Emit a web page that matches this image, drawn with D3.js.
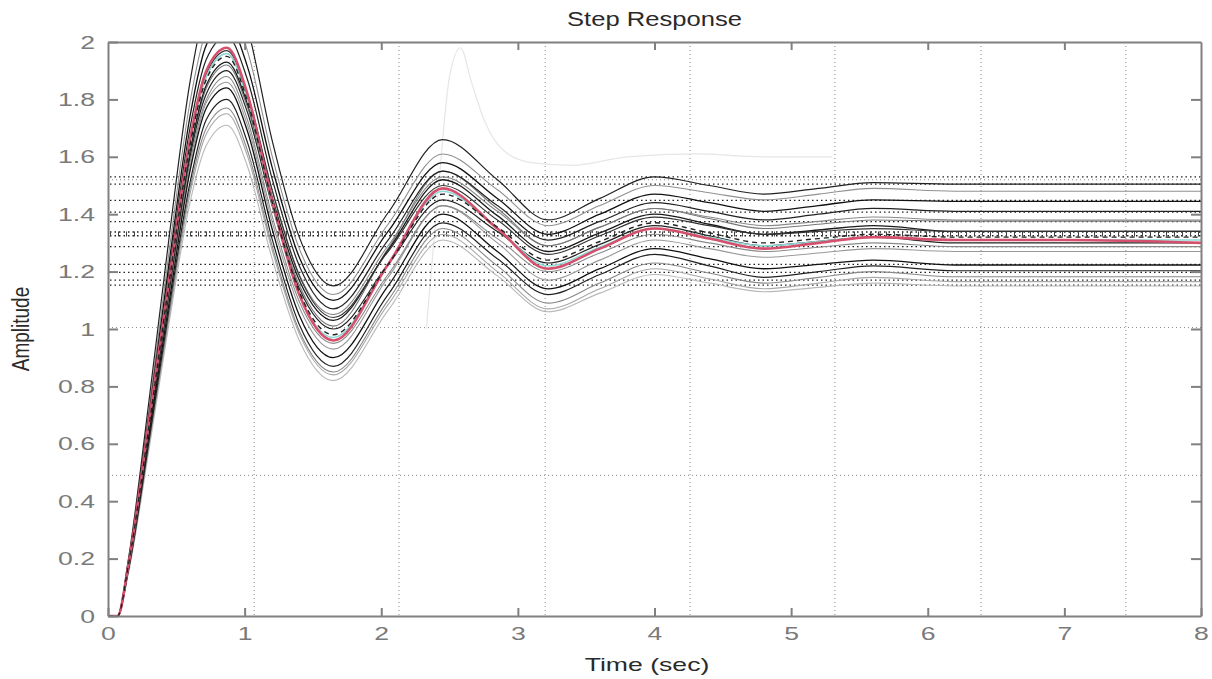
<!DOCTYPE html>
<html><head><meta charset="utf-8">
<script src="https://cdn.jsdelivr.net/npm/d3@7"></script>
<style>
html,body{margin:0;padding:0;background:#fff;}
svg{display:block;font-family:"Liberation Sans",Arial,Helvetica,sans-serif;}
</style></head>
<body>
<svg id="chart" width="1212" height="679"></svg>
<script>
// ---- data ----
const times = [0,0.07,0.15,0.3,0.45,0.6,0.72,0.87,1.02,1.2,1.4,1.65,2.05,2.45,2.85,3.22,3.6,4.0,4.4,4.8,5.2,5.6,6.2,7.0,8.0];
const s01 = [0,0,0.20,0.75,1.33,1.86,2.13,2.22,2.05,1.66,1.32,1.15,1.405,1.66,1.52,1.38,1.455,1.53,1.50,1.47,1.49,1.51,1.505,1.505,1.505];
const s02 = [0,0,0.19,0.72,1.28,1.79,2.04,2.13,1.97,1.605,1.28,1.12,1.365,1.61,1.485,1.36,1.43,1.50,1.475,1.45,1.47,1.49,1.48,1.48,1.48];
const s03 = [0,0,0.19,0.70,1.24,1.74,1.99,2.07,1.915,1.566,1.25,1.10,1.34,1.58,1.455,1.33,1.40,1.47,1.44,1.41,1.43,1.45,1.445,1.445,1.445];
const s04 = [0,0,0.18,0.69,1.21,1.70,1.94,2.02,1.87,1.526,1.22,1.07,1.31,1.55,1.43,1.31,1.375,1.44,1.41,1.38,1.40,1.42,1.41,1.41,1.41];
const s05 = [0,0,0.18,0.67,1.18,1.65,1.88,1.96,1.81,1.487,1.19,1.05,1.29,1.53,1.41,1.29,1.355,1.42,1.39,1.36,1.375,1.39,1.38,1.38,1.38];
const s06 = [0,0,0.17,0.66,1.16,1.62,1.85,1.93,1.786,1.462,1.17,1.03,1.275,1.52,1.395,1.27,1.335,1.40,1.365,1.33,1.345,1.36,1.34,1.34,1.34];
const s07 = [0,0,0.17,0.65,1.15,1.61,1.84,1.92,1.774,1.447,1.153,1.01,1.28,1.55,1.42,1.29,1.355,1.42,1.385,1.35,1.365,1.38,1.376,1.376,1.376];
const s08 = [0,0,0.18,0.67,1.18,1.65,1.89,1.97,1.821,1.486,1.186,1.04,1.27,1.50,1.38,1.26,1.325,1.39,1.36,1.33,1.34,1.35,1.34,1.34,1.34];
const s09 = [0,0,0.17,0.65,1.14,1.60,1.82,1.90,1.756,1.432,1.141,1.00,1.225,1.45,1.34,1.23,1.295,1.36,1.325,1.29,1.305,1.32,1.30,1.30,1.30];
const s10 = [0,0,0.17,0.64,1.13,1.58,1.80,1.88,1.73,1.396,1.096,0.95,1.19,1.43,1.315,1.20,1.265,1.33,1.30,1.27,1.285,1.30,1.287,1.287,1.287];
const s11 = [0,0,0.17,0.63,1.12,1.56,1.79,1.86,1.711,1.376,1.076,0.93,1.18,1.43,1.30,1.17,1.24,1.31,1.28,1.25,1.265,1.28,1.27,1.27,1.27];
const s12 = [0,0,0.17,0.63,1.10,1.55,1.77,1.84,1.69,1.351,1.048,0.90,1.15,1.40,1.27,1.14,1.21,1.28,1.245,1.21,1.225,1.24,1.223,1.223,1.223];
const s13 = [0,0,0.16,0.61,1.08,1.51,1.73,1.80,1.651,1.316,1.016,0.87,1.12,1.37,1.245,1.12,1.19,1.26,1.22,1.18,1.20,1.22,1.203,1.203,1.203];
const s14 = [0,0,0.16,0.60,1.06,1.49,1.70,1.77,1.623,1.292,0.994,0.85,1.10,1.35,1.22,1.09,1.16,1.23,1.195,1.16,1.18,1.20,1.182,1.182,1.182];
const s15 = [0,0,0.16,0.60,1.05,1.47,1.68,1.75,1.604,1.277,0.983,0.84,1.085,1.33,1.20,1.07,1.14,1.21,1.175,1.14,1.16,1.18,1.165,1.165,1.165];
const s16 = [0,0,0.15,0.58,1.03,1.44,1.64,1.71,1.568,1.247,0.96,0.82,1.065,1.31,1.185,1.06,1.125,1.19,1.16,1.13,1.145,1.16,1.15,1.15,1.15];
const s17 = [0,0,0.18,0.66,1.17,1.64,1.87,1.95,1.795,1.446,1.13,0.98,1.225,1.47,1.355,1.24,1.305,1.37,1.335,1.30,1.315,1.33,1.32,1.32,1.32];
const s18 = [0,0,0.18,0.67,1.17,1.64,1.88,1.96,1.80,1.44,1.12,0.97,1.225,1.48,1.35,1.22,1.285,1.35,1.32,1.29,1.305,1.32,1.31,1.31,1.31];
const sRed = [0,0,0.18,0.68,1.18,1.66,1.90,1.98,1.82,1.45,1.12,0.96,1.225,1.49,1.35,1.21,1.28,1.35,1.315,1.28,1.30,1.32,1.31,1.31,1.30];
// steady-state (dotted) levels
const steadyLevels = [1.53,1.505,1.448,1.407,1.374,1.338,1.325,1.287,1.225,1.197,1.17,1.153];
// faint ghost trace
const ghostT = [2.33,2.42,2.50,2.58,2.66,2.76,2.90,3.10,3.40,3.80,4.30,4.80,5.30];
const ghostV = [1.00,1.50,1.88,1.98,1.86,1.72,1.62,1.58,1.57,1.60,1.61,1.60,1.60];
// ticks & grid
const xTicks = [0,1,2,3,4,5,6,7,8];
const yTicks = [0,0.2,0.4,0.6,0.8,1,1.2,1.4,1.6,1.8,2];
const gridX = [1.07,2.13,3.2,4.26,5.32,6.39,7.45];
const gridY = [0.49,1.005,1.52];
const titleText = "Step Response";
const xLabel = "Time (sec)";
const yLabel = "Amplitude";

// ---- drawing ----
const svg = d3.select("#chart");
const L = 108, R = 1201, T = 42, B = 616;
const x = d3.scaleLinear().domain([0,8]).range([L,R]);
const y = d3.scaleLinear().domain([0,2]).range([B,T]);
const SX = 1.4;

svg.append("defs").append("clipPath").attr("id","plotclip")
  .append("rect").attr("x",L).attr("y",T).attr("width",R-L).attr("height",B-T);

const plot = svg.append("g").attr("clip-path","url(#plotclip)");

// grid
plot.selectAll(".gx").data(gridX).enter().append("line")
  .attr("x1",d=>x(d)).attr("x2",d=>x(d)).attr("y1",T).attr("y2",B)
  .attr("stroke","#888").attr("stroke-width",1).attr("stroke-dasharray","1,3");
plot.selectAll(".gy").data(gridY).enter().append("line")
  .attr("x1",L).attr("x2",R).attr("y1",d=>y(d)).attr("y2",d=>y(d))
  .attr("stroke","#888").attr("stroke-width",1).attr("stroke-dasharray","1,3");

// ghost
const ghostLine = d3.line().x((d,i)=>x(ghostT[i])).y(d=>y(d)).curve(d3.curveMonotoneX);
plot.append("path").attr("d",ghostLine(ghostV)).attr("fill","none")
  .attr("stroke","#e6e6e6").attr("stroke-width",1.2);

// steady-state dotted lines
plot.selectAll(".ss").data(steadyLevels).enter().append("line")
  .attr("x1",L+2).attr("x2",R).attr("y1",d=>y(d)).attr("y2",d=>y(d))
  .attr("stroke","#222").attr("stroke-width",1.3).attr("stroke-dasharray","1.5,3");
plot.append("line").attr("x1",L+2).attr("x2",R).attr("y1",y(1.331)).attr("y2",y(1.331))
  .attr("stroke","#444").attr("stroke-width",5).attr("stroke-dasharray","1,7");

// curves
const line = d3.line().x((d,i)=>x(times[i])).y(d=>y(d)).curve(d3.curveMonotoneX);
const series = [
  {v:s16,c:"#b8b8b8",w:1.1},{v:s15,c:"#a8a8a8",w:1.1},{v:s14,c:"#888",w:1.1},
  {v:s11,c:"#999",w:1.1},{v:s10,c:"#8a8a8a",w:1.1},{v:s05,c:"#8a8a8a",w:1.1},
  {v:s02,c:"#909090",w:1.1},{v:s07,c:"#777",w:1.1},
  {v:s01,c:"#222",w:1.2},{v:s03,c:"#111",w:1.3},{v:s04,c:"#222",w:1.2},
  {v:s06,c:"#1a1a1a",w:1.3},{v:s08,c:"#333",w:1.2},{v:s09,c:"#222",w:1.2},
  {v:s12,c:"#111",w:1.3},{v:s13,c:"#222",w:1.2},
  {v:s18,c:"#8fd8d8",w:1.5}
];
series.forEach(s=>{
  plot.append("path").attr("d",line(s.v)).attr("fill","none")
    .attr("stroke",s.c).attr("stroke-width",s.w);
});
plot.append("path").attr("d",line(sRed)).attr("fill","none")
  .attr("stroke","#d4506c").attr("stroke-width",2.6);
plot.append("path").attr("d",line(s17)).attr("fill","none")
  .attr("stroke","#222").attr("stroke-width",1.4).attr("stroke-dasharray","5,4");

// axes
const axColor = "#808080";
function styleAxis(g){
  g.select(".domain").attr("stroke",axColor).attr("stroke-width",2);
  g.selectAll(".tick line").attr("stroke",axColor).attr("stroke-width",2);
  g.selectAll(".tick text").attr("fill","#7a7a7a").attr("font-size",19);
}
const fmt = d3.format("~g");
const gB = svg.append("g").attr("transform",`translate(0,${B})`)
  .call(d3.axisBottom(x).tickValues(xTicks).tickFormat(fmt).tickSizeInner(-8).tickSizeOuter(0).tickPadding(11));
styleAxis(gB);
gB.selectAll(".tick text").attr("transform",`scale(${SX},1)`);
const gL = svg.append("g").attr("transform",`translate(${L},0)`)
  .call(d3.axisLeft(y).tickValues(yTicks).tickFormat(fmt).tickSizeInner(-10).tickSizeOuter(0).tickPadding(9.3));
styleAxis(gL);
gL.selectAll(".tick text").attr("transform",`scale(${SX},1)`);
const gT = svg.append("g").attr("transform",`translate(0,${T})`)
  .call(d3.axisTop(x).tickValues(xTicks.slice(1,-1)).tickFormat("").tickSizeInner(-8).tickSizeOuter(0));
styleAxis(gT);
const gR = svg.append("g").attr("transform",`translate(${R},0)`)
  .call(d3.axisRight(y).tickValues(yTicks.slice(1,-1)).tickFormat("").tickSizeInner(-10).tickSizeOuter(0));
styleAxis(gR);

// texts
svg.append("text").attr("transform",`translate(${(L+R)/2},26) scale(1.28,1)`)
  .attr("text-anchor","middle").attr("font-size",20).attr("fill","#2a2a2a").text(titleText);
svg.append("text").attr("transform",`translate(647,671) scale(1.4,1)`)
  .attr("text-anchor","middle").attr("font-size",19).attr("fill","#2a2a2a").text(xLabel);
svg.append("text").attr("transform",`translate(29,329) scale(1.25,1) rotate(-90)`)
  .attr("text-anchor","middle").attr("font-size",19).attr("fill","#2a2a2a").text(yLabel);
</script>
</body></html>
